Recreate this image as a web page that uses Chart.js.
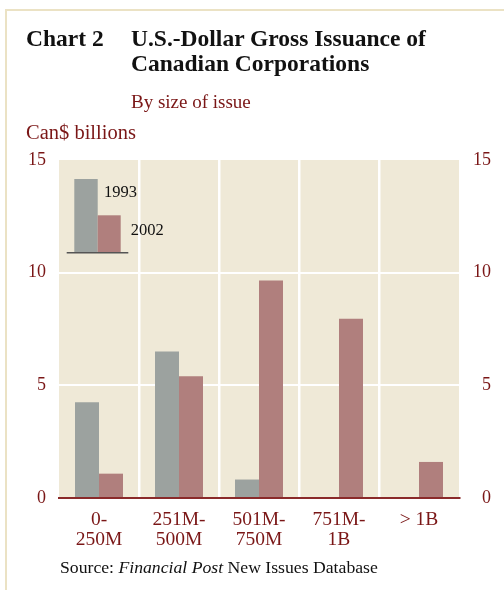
<!DOCTYPE html>
<html>
<head>
<meta charset="utf-8">
<script src="https://cdn.jsdelivr.net/npm/chart.js@4"></script>
<style>
  html, body { margin: 0; padding: 0; background: #fff; }
  body { width: 504px; height: 590px; position: relative; overflow: hidden; font-family: "Liberation Serif", serif; }
  #frame { position: absolute; left: 5px; top: 9px; right: 0; bottom: 0; border-left: 2px solid #ebe2c4; border-top: 2px solid #ebe2c4; }
  .t { position: absolute; line-height: 1; white-space: nowrap; }
  .title { font-weight: bold; font-size: 23.5px; color: #111; }
  .red { color: #7a1616; }
  #wrap { position: absolute; left: 0; top: 0; width: 504px; height: 590px; }
</style>
</head>
<body>
<div id="frame"></div>
<div id="wrap"><canvas id="chart"></canvas></div>
<div class="t title" style="left:26px; top:27px;">Chart 2</div>
<div class="t title" style="left:131px; top:27px;">U.S.-Dollar Gross Issuance of</div>
<div class="t title" style="left:131px; top:52px;">Canadian Corporations</div>
<div class="t red" style="left:131px; top:92px; font-size:19px;">By size of issue</div>
<div class="t red" style="left:26px; top:122px; font-size:20.5px;">Can$ billions</div>
<div class="t" style="left:60px; top:559px; font-size:17.7px; color:#111;">Source: <i>Financial Post</i> New Issues Database</div>
<script>
var categories = [["0-", "250M"], ["251M-", "500M"], ["501M-", "750M"], ["751M-", "1B"], ["> 1B"]];
var values1993 = [4.25, 6.5, 0.82, 0, 0];
var values2002 = [1.08, 5.4, 9.65, 7.95, 1.6];
var yTicks = [0, 5, 10, 15];

var gray = "#9ca29f";
var rose = "#b07f7d";
var darkRed = "#7a1616";
var beige = "#efe9d7";

var backgroundPlugin = {
  id: "plotBackground",
  beforeDraw: function (chart) {
    var a = chart.chartArea;
    var ctx = chart.ctx;
    ctx.save();
    ctx.fillStyle = beige;
    ctx.fillRect(a.left, a.top, a.right - a.left, a.bottom - a.top);
    ctx.restore();
  }
};

// small inset legend in the top-left corner of the plot
var insetLegend = {
  id: "insetLegend",
  afterDraw: function (chart) {
    var a = chart.chartArea;
    var ctx = chart.ctx;
    var sets = chart.data.datasets;
    var x = a.left, y = a.top;
    ctx.save();
    ctx.fillStyle = sets[0].backgroundColor;
    ctx.fillRect(x + 15.3, y + 19, 23.4, 73.7);
    ctx.fillStyle = sets[1].backgroundColor;
    ctx.fillRect(x + 38.7, y + 55.3, 23, 37.4);
    ctx.strokeStyle = "#555";
    ctx.lineWidth = 1.5;
    ctx.beginPath();
    ctx.moveTo(x + 7.7, y + 92.7);
    ctx.lineTo(x + 69.3, y + 92.7);
    ctx.stroke();
    ctx.fillStyle = "#111";
    ctx.font = "16.5px 'Liberation Serif'";
    ctx.textBaseline = "middle";
    ctx.fillText(sets[0].label, x + 45, y + 33);
    ctx.fillText(sets[1].label, x + 71.7, y + 70.7);
    ctx.restore();
  }
};

var yFont = { family: "Liberation Serif", size: 18 };
var xFont = { family: "Liberation Serif", size: 19.5, lineHeight: 1.03 };

const config = {
  type: "bar",
  data: {
    labels: categories,
    datasets: [
      { label: "1993", data: values1993, backgroundColor: gray, yAxisID: "y" },
      { label: "2002", data: values2002, backgroundColor: rose, yAxisID: "y" }
    ]
  },
  options: {
    responsive: false,
    animation: false,
    devicePixelRatio: 1,
    categoryPercentage: 0.6,
    barPercentage: 1.0,
    layout: { padding: { top: 160, bottom: 32, left: 0, right: 13 } },
    plugins: {
      legend: { display: false },
      tooltip: { enabled: false }
    },
    scales: {
      x: {
        grid: {
          offset: true,
          drawTicks: false,
          lineWidth: 2.5,
          color: function (c) {
            return (c.index >= 1 && c.index <= 4) ? "#ffffff" : "rgba(0,0,0,0)";
          }
        },
        border: { display: true, color: "#8a2a2a", width: 2 },
        ticks: { color: darkRed, font: xFont, padding: 12, maxRotation: 0, autoSkip: false },
        afterFit: function (s) { s.height = 60; }
      },
      y: {
        position: "left",
        min: 0,
        max: 15,
        afterBuildTicks: function (s) { s.ticks = yTicks.map(function (v) { return { value: v }; }); },
        grid: {
          drawTicks: false,
          lineWidth: 2,
          color: function (c) {
            return (c.tick && c.tick.value > 0 && c.tick.value < 15) ? "#ffffff" : "rgba(0,0,0,0)";
          }
        },
        border: { display: false },
        ticks: { color: darkRed, font: yFont, padding: 13 },
        afterFit: function (s) { s.width = 59; }
      },
      y2: {
        position: "right",
        min: 0,
        max: 15,
        afterBuildTicks: function (s) { s.ticks = yTicks.map(function (v) { return { value: v }; }); },
        grid: { display: false, drawTicks: false },
        border: { display: false },
        ticks: { color: darkRed, font: yFont, padding: 2, crossAlign: "far" },
        afterFit: function (s) { s.width = 32; }
      }
    }
  },
  plugins: [backgroundPlugin, insetLegend]
};

var canvas = document.getElementById("chart");
canvas.width = 504;
canvas.height = 590;
canvas.style.width = "504px";
canvas.style.height = "590px";
var myChart = new Chart(canvas, config);
</script>
</body>
</html>
